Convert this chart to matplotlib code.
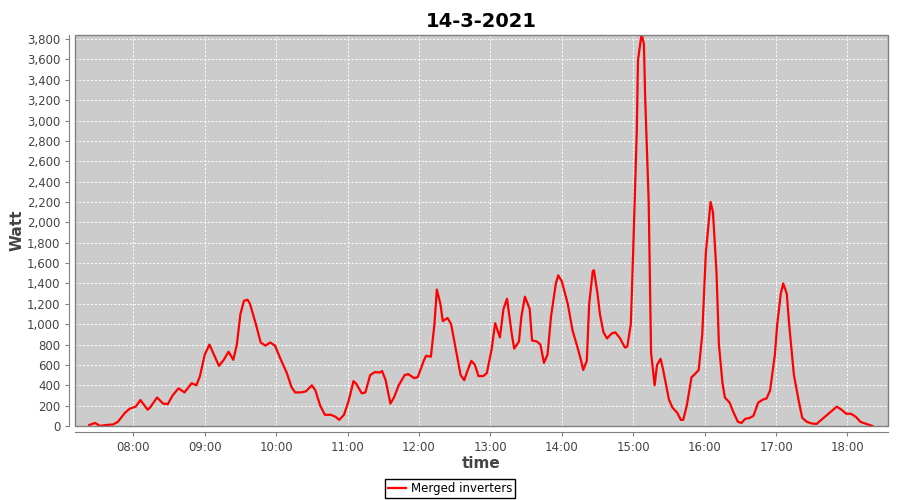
import matplotlib
matplotlib.use("Agg")
import matplotlib.pyplot as plt
import matplotlib.dates as mdates
from matplotlib.ticker import FuncFormatter, MultipleLocator
from matplotlib.patches import Rectangle
from datetime import datetime

day = "2021-03-14"
times = ["07:23", "07:28", "07:32", "07:37", "07:43", "07:47", "07:53", "07:57", "08:02", "08:06",
         "08:12", "08:14", "08:20", "08:25", "08:29", "08:33", "08:38", "08:43", "08:49", "08:53",
         "08:56", "09:00", "09:04", "09:07", "09:12", "09:16", "09:20", "09:24", "09:27", "09:30",
         "09:33", "09:36", "09:38", "09:43", "09:47", "09:51", "09:55", "09:59", "10:04", "10:09",
         "10:13", "10:16", "10:21", "10:25", "10:30", "10:33", "10:37", "10:41", "10:46", "10:50",
         "10:53", "10:57", "11:01", "11:05", "11:07", "11:12", "11:15", "11:19", "11:23", "11:27",
         "11:29", "11:32", "11:36", "11:39", "11:43", "11:48", "11:51", "11:56", "11:59", "12:04",
         "12:06", "12:10", "12:13", "12:15", "12:18", "12:20", "12:24", "12:27", "12:31", "12:35",
         "12:38", "12:41", "12:44", "12:47", "12:50", "12:54", "12:57", "13:01", "13:04", "13:08",
         "13:11", "13:14", "13:18", "13:20", "13:24", "13:26", "13:29", "13:33", "13:35", "13:39",
         "13:42", "13:45", "13:48", "13:51", "13:55", "13:57", "14:00", "14:05", "14:09", "14:13",
         "14:16", "14:18", "14:21", "14:23", "14:26", "14:27", "14:30", "14:32", "14:35", "14:38",
         "14:42", "14:45", "14:49", "14:53", "14:55", "14:58", "15:00", "15:03", "15:04", "15:07",
         "15:09", "15:10", "15:13", "15:15", "15:18", "15:20", "15:23", "15:25", "15:30", "15:33",
         "15:37", "15:40", "15:42", "15:45", "15:49", "15:51", "15:55", "15:58", "16:01", "16:05",
         "16:07", "16:10", "16:12", "16:15", "16:17", "16:21", "16:24", "16:28", "16:31", "16:34",
         "16:38", "16:41", "16:45", "16:49", "16:52", "16:55", "16:59", "17:01", "17:04", "17:06",
         "17:09", "17:11", "17:15", "17:19", "17:22", "17:26", "17:30", "17:34", "17:37", "17:42",
         "17:47", "17:51", "17:55", "17:59", "18:03", "18:07", "18:11", "18:16", "18:21"]
watt = [10, 30, 0, 10, 15, 40, 130, 170, 190, 255,
        160, 180, 280, 220, 215, 300, 370, 330, 420, 400,
        490, 700, 800, 720, 590, 650, 730, 650, 800, 1100,
        1230, 1240, 1200, 1000, 820, 790, 820, 790, 650, 520,
        380, 330, 330, 340, 400, 350, 200, 110, 110, 90,
        60, 110, 250, 440, 420, 320, 330, 500, 530, 525,
        540, 450, 220, 280, 400, 500, 510, 470, 480, 640,
        690, 680, 1000, 1340, 1200, 1030, 1060, 1000, 750, 500,
        450, 550, 640, 600, 490, 490, 520, 750, 1010, 870,
        1150, 1250, 900, 760, 830, 1070, 1270, 1150, 840, 830,
        800, 620, 700, 1080, 1400, 1480, 1420, 1200, 940, 780,
        650, 550, 640, 1200, 1520, 1530, 1300, 1100, 920, 860,
        910, 920, 860, 770, 780, 1000, 1730, 2900, 3590, 3850,
        3750, 3240, 2200, 717, 400, 600, 660, 560, 260, 180,
        130, 60, 60, 200, 480, 500, 550, 900, 1700, 2200,
        2100, 1500, 800, 420, 280, 230, 140, 40, 30, 70,
        80, 100, 230, 260, 270, 350, 700, 1000, 1300, 1400,
        1300, 1000, 500, 250, 80, 40, 25, 20, 50, 100,
        150, 190, 160, 120, 120, 90, 40, 20, 0]

x = [datetime.strptime(day + " " + t, "%Y-%m-%d %H:%M") for t in times]

fig = plt.figure(figsize=(9, 5), dpi=100)
ax = fig.add_axes([0.0833, 0.148, 0.9033, 0.782])
ax.set_facecolor("#cccccc")
ax.plot(x, watt, color="red", linewidth=1.6, label="Merged inverters")

ax.set_xlim(datetime(2021, 3, 14, 7, 11), datetime(2021, 3, 14, 18, 34))
ax.set_ylim(0, 3840)
ax.yaxis.set_major_locator(MultipleLocator(200))
ax.yaxis.set_major_formatter(FuncFormatter(lambda v, p: "{:,.0f}".format(v)))
ax.xaxis.set_major_locator(mdates.HourLocator())
ax.xaxis.set_major_formatter(mdates.DateFormatter("%H:%M"))

ax.grid(True, color="white", linestyle=(0, (2, 2)), linewidth=0.7)
for s in ["top", "right"]:
    ax.spines[s].set_visible(False)
for s in ["left", "bottom"]:
    ax.spines[s].set_position(("outward", 4))
    ax.spines[s].set_color("#808080")
ax.add_patch(Rectangle((0, 0), 1, 1, transform=ax.transAxes, fill=False,
                       edgecolor="#808080", linewidth=1, clip_on=False, zorder=5))
ax.tick_params(axis="both", labelsize=8.5, labelcolor="#444444", length=3, width=0.8, color="#808080")

ax.set_title("14-3-2021", fontsize=14, fontweight="bold", pad=6)
ax.set_ylabel("Watt", fontsize=11, fontweight="bold", color="#444444", labelpad=2)
ax.set_xlabel("time", fontsize=11, fontweight="bold", color="#444444", labelpad=2)

leg = fig.legend(loc="lower center", bbox_to_anchor=(0.5, 0.0), fontsize=8.5, fancybox=False,
                 framealpha=1, edgecolor="black", handlelength=1.5, handletextpad=0.4,
                 borderpad=0.25, borderaxespad=0.2)
leg.get_frame().set_linewidth(1)

fig.savefig("out.png")
